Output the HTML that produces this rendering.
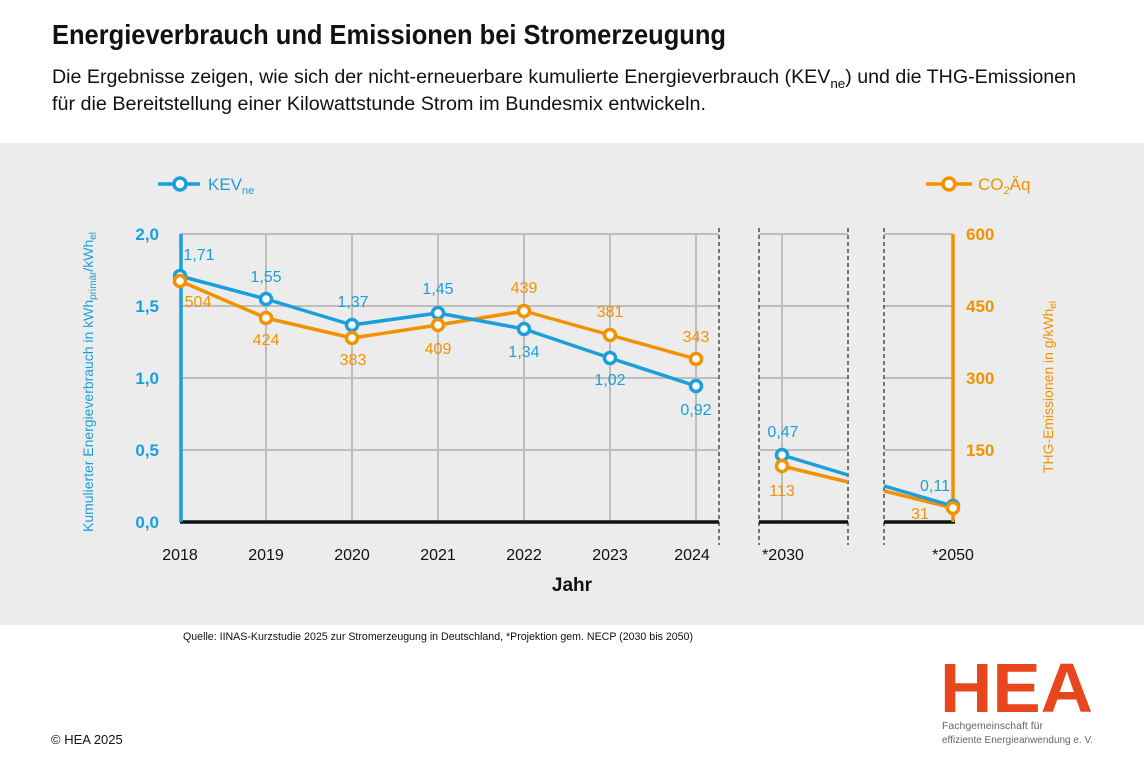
<!DOCTYPE html>
<html><head><meta charset="utf-8"><style>
html,body{margin:0;padding:0;background:#fff;}
svg{display:block;font-family:"Liberation Sans",sans-serif;}
</style></head><body>
<svg width="1144" height="763" viewBox="0 0 1144 763" xmlns="http://www.w3.org/2000/svg">
<rect x="0" y="0" width="1144" height="763" fill="#fff"/>
<rect x="0" y="143" width="1144" height="482" fill="#ececec"/>
<text x="52" y="44" font-size="28" font-weight="bold" fill="#111" textLength="674" lengthAdjust="spacingAndGlyphs">Energieverbrauch und Emissionen bei Stromerzeugung</text>
<text x="52" y="83" font-size="19" fill="#111" textLength="1024" lengthAdjust="spacingAndGlyphs">Die Ergebnisse zeigen, wie sich der nicht-erneuerbare kumulierte Energieverbrauch (KEV<tspan font-size="13" dy="5">ne</tspan><tspan dy="-5">) und die THG-Emissionen</tspan></text>
<text x="52" y="110" font-size="19" fill="#111" textLength="654" lengthAdjust="spacingAndGlyphs">für die Bereitstellung einer Kilowattstunde Strom im Bundesmix entwickeln.</text>

<!-- grid -->
<g stroke="#bdbdbd" stroke-width="2">
<line x1="180" y1="234" x2="719" y2="234"/><line x1="180" y1="306" x2="719" y2="306"/><line x1="180" y1="378" x2="719" y2="378"/><line x1="180" y1="450" x2="719" y2="450"/>
<line x1="759" y1="234" x2="848" y2="234"/><line x1="759" y1="306" x2="848" y2="306"/><line x1="759" y1="378" x2="848" y2="378"/><line x1="759" y1="450" x2="848" y2="450"/>
<line x1="884" y1="234" x2="953" y2="234"/><line x1="884" y1="306" x2="953" y2="306"/><line x1="884" y1="378" x2="953" y2="378"/><line x1="884" y1="450" x2="953" y2="450"/>
<line x1="266" y1="234" x2="266" y2="522"/><line x1="352" y1="234" x2="352" y2="522"/><line x1="438" y1="234" x2="438" y2="522"/><line x1="524" y1="234" x2="524" y2="522"/><line x1="610" y1="234" x2="610" y2="522"/><line x1="696" y1="234" x2="696" y2="522"/><line x1="782" y1="234" x2="782" y2="522"/>
</g>
<g stroke="#333" stroke-width="1.3" stroke-dasharray="4,3">
<line x1="719" y1="228" x2="719" y2="545"/><line x1="759" y1="228" x2="759" y2="545"/><line x1="848" y1="228" x2="848" y2="545"/><line x1="884" y1="228" x2="884" y2="545"/>
</g>
<g stroke="#111" stroke-width="3.5">
<line x1="180" y1="522" x2="719" y2="522"/><line x1="759" y1="522" x2="848" y2="522"/><line x1="884" y1="522" x2="955" y2="522"/>
</g>
<line x1="181" y1="234" x2="181" y2="522" stroke="#1a9fdc" stroke-width="3.5"/>
<line x1="953" y1="234" x2="953" y2="522" stroke="#f39200" stroke-width="3.5"/>

<!-- series lines -->
<g fill="none" stroke-width="3.5" stroke-linejoin="round">
<polyline stroke="#f39200" points="180,281 266,318 352,338 438,325 524,311 610,335 696,359"/>
<polyline stroke="#1a9fdc" points="180,276 266,299 352,325 438,313 524,329 610,358 696,386"/>
<polyline stroke="#f39200" points="782,466 848,482"/>
<polyline stroke="#1a9fdc" points="782,455 848,475"/>
<polyline stroke="#f39200" points="884,491 953,508"/>
<polyline stroke="#1a9fdc" points="884,486 953,506"/>
</g>
<g fill="#fff" stroke-width="3.5">
<g stroke="#1a9fdc">
<circle cx="180" cy="276" r="5.5"/><circle cx="266" cy="299" r="5.5"/><circle cx="352" cy="325" r="5.5"/><circle cx="438" cy="313" r="5.5"/><circle cx="524" cy="329" r="5.5"/><circle cx="610" cy="358" r="5.5"/><circle cx="696" cy="386" r="5.5"/><circle cx="782" cy="455" r="5.5"/><circle cx="953" cy="506" r="5.5"/>
</g>
<g stroke="#f39200">
<circle cx="180" cy="281" r="5.5"/><circle cx="266" cy="318" r="5.5"/><circle cx="352" cy="338" r="5.5"/><circle cx="438" cy="325" r="5.5"/><circle cx="524" cy="311" r="5.5"/><circle cx="610" cy="335" r="5.5"/><circle cx="696" cy="359" r="5.5"/><circle cx="782" cy="466" r="5.5"/><circle cx="953" cy="508" r="5.5"/>
</g>
</g>

<!-- data labels -->
<g font-size="16" fill="#1a9fdc" text-anchor="middle">
<text x="199" y="260">1,71</text><text x="266" y="282">1,55</text><text x="353" y="307">1,37</text><text x="438" y="294">1,45</text><text x="524" y="357">1,34</text><text x="610" y="385">1,02</text><text x="696" y="415">0,92</text><text x="783" y="437">0,47</text><text x="935" y="491">0,11</text>
</g>
<g font-size="16" fill="#f39200" text-anchor="middle">
<text x="198" y="307">504</text><text x="266" y="345">424</text><text x="353" y="365">383</text><text x="438" y="354">409</text><text x="524" y="293">439</text><text x="610" y="317">381</text><text x="696" y="342">343</text><text x="782" y="496">113</text><text x="920" y="519">31</text>
</g>

<!-- left axis -->
<g font-size="17" font-weight="bold" fill="#1a9fdc" text-anchor="end">
<text x="159" y="240">2,0</text><text x="159" y="312">1,5</text><text x="159" y="384">1,0</text><text x="159" y="456">0,5</text><text x="159" y="528">0,0</text>
</g>
<text transform="translate(93,532) rotate(-90)" font-size="14" fill="#1a9fdc" textLength="300" lengthAdjust="spacingAndGlyphs">Kumulierter Energieverbrauch in kWh<tspan font-size="10" dy="3">primär</tspan><tspan dy="-3">/kWh</tspan><tspan font-size="10" dy="3">el</tspan></text>
<!-- right axis -->
<g font-size="17" font-weight="bold" fill="#f39200">
<text x="966" y="240">600</text><text x="966" y="312">450</text><text x="966" y="384">300</text><text x="966" y="456">150</text>
</g>
<text transform="translate(1053,473) rotate(-90)" font-size="14" fill="#f39200" textLength="172" lengthAdjust="spacingAndGlyphs">THG-Emissionen in g/kWh<tspan font-size="10" dy="3">el</tspan></text>

<!-- x labels -->
<g font-size="16" fill="#111" text-anchor="middle">
<text x="180" y="560">2018</text><text x="266" y="560">2019</text><text x="352" y="560">2020</text><text x="438" y="560">2021</text><text x="524" y="560">2022</text><text x="610" y="560">2023</text><text x="692" y="560">2024</text><text x="783" y="560">*2030</text><text x="953" y="560">*2050</text>
</g>
<text x="572" y="591" font-size="19" font-weight="bold" fill="#111" text-anchor="middle">Jahr</text>

<!-- legends -->
<line x1="158" y1="184" x2="200" y2="184" stroke="#1a9fdc" stroke-width="3.5"/>
<circle cx="180" cy="184" r="6" fill="#fff" stroke="#1a9fdc" stroke-width="3.5"/>
<text x="208" y="190" font-size="17" fill="#1a9fdc">KEV<tspan font-size="11" dy="4">ne</tspan></text>
<line x1="926" y1="184" x2="972" y2="184" stroke="#f39200" stroke-width="3.5"/>
<circle cx="949" cy="184" r="6" fill="#fff" stroke="#f39200" stroke-width="3.5"/>
<text x="978" y="190" font-size="17" fill="#f39200">CO<tspan font-size="11" dy="4">2</tspan><tspan dy="-4">Äq</tspan></text>

<!-- footer -->
<text x="183" y="640" font-size="11" fill="#111" textLength="510" lengthAdjust="spacingAndGlyphs">Quelle: IINAS-Kurzstudie 2025 zur Stromerzeugung in Deutschland, *Projektion gem. NECP (2030 bis 2050)</text>
<text x="51" y="744" font-size="13" fill="#111">© HEA 2025</text>
<text x="940" y="712" font-size="70" font-weight="bold" fill="#e8461e" textLength="153" lengthAdjust="spacingAndGlyphs">HEA</text>
<text x="942" y="729" font-size="10.5" fill="#666">Fachgemeinschaft für</text>
<text x="942" y="743" font-size="10.5" fill="#666" textLength="151" lengthAdjust="spacingAndGlyphs">effiziente Energieanwendung e. V.</text>
</svg>
</body></html>
